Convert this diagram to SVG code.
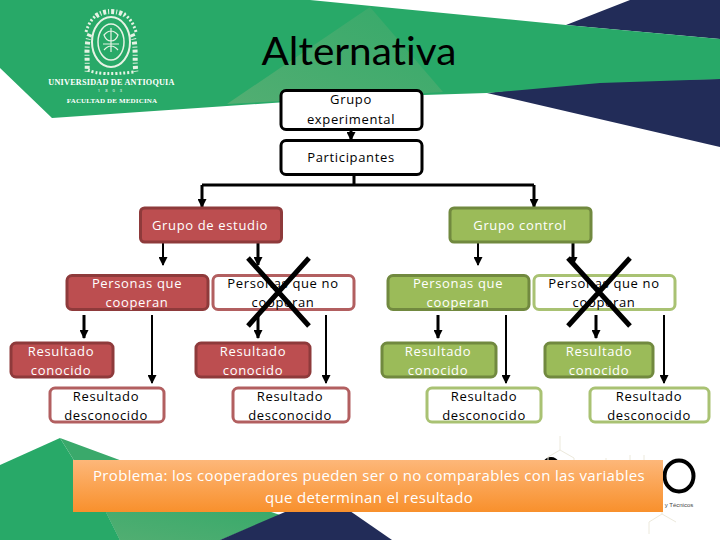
<svg xmlns="http://www.w3.org/2000/svg" width="720" height="540" viewBox="0 0 720 540">
<style>
text{font-family:"Open Sans","Noto Sans","Liberation Sans",sans-serif;text-anchor:middle;font-size:13px;letter-spacing:.65px}
.lt{fill:#fff}.dk{fill:#000}
.k{fill:#fff;stroke:#000;stroke-width:3}
.rf{fill:#bc4e50;stroke:#8e3a3b;stroke-width:3}
.ro{fill:#fff;stroke:#b25f60;stroke-width:3}
.gf{fill:#9bbb59;stroke:#71893f;stroke-width:3}
.go{fill:#fff;stroke:#a9c273;stroke-width:3}
.c{fill:none;stroke:#000;stroke-width:2}
.c3{fill:none;stroke:#000;stroke-width:3}
.x{stroke:#000;stroke-width:5;fill:none}
.crest{fill:none;stroke:#e6f3e4}
.hx{fill:none;stroke:#ece9dc;stroke-width:1}
.ser{font-family:"Liberation Serif",serif;font-weight:bold}
</style>
<defs>
<linearGradient id="og" x1="0" y1="0" x2="0" y2="1"><stop offset="0" stop-color="#fdb779"/><stop offset="1" stop-color="#f8902c"/></linearGradient>
<linearGradient id="lg" x1="0" y1="1" x2="1" y2="0"><stop offset="0" stop-color="#52ae72"/><stop offset="1" stop-color="#36a96a"/></linearGradient>
<marker id="a" markerUnits="userSpaceOnUse" markerWidth="9" markerHeight="9" refX="8" refY="4.500" orient="auto" viewBox="0 0 9 9"><path d="M0 0L9 4.500L0 9Z" fill="#000"/></marker>
</defs>
<rect width="720" height="540" fill="#fff"/>
<g id="background">
<polygon points="566,25 630,0 720,0 720,39" fill="#222c58"/>
<polygon points="487,93 600,80 720,79 720,147" fill="#222c58"/>
<polygon points="0,0 310,0 566,25 720,39 720,79 600,83 487,93 360,97 52,118 0,68" fill="#28a968"/>
<polygon points="370,7 443,92 360,97 227,104" fill="url(#lg)"/>
<polygon points="60,438 0,465 0,540 120,540 105,510" fill="#28a968"/>
<polygon points="60,438 125,462 280,515 220,540 120,540 105,510" fill="#3aa96b"/>
<polygon points="105,510 200,505 280,515 220,540 120,540" fill="url(#lg)"/>
<polygon points="220,540 285,512 350,511 392,540" fill="#222c58"/>
<g id="logo-ua">
<ellipse cx="111" cy="42" rx="19" ry="25" class="crest" stroke-width="2"/>
<ellipse cx="111" cy="42" rx="13" ry="18" class="crest" stroke-width="1.500"/>
<path class="crest" stroke-width="1.200" d="M104 35q7-8 14 0q-2 6-7 6q-5 0-7-6zM104 50q7-8 14 0M111 28v24M103 44h16"/>
<path class="crest" stroke-width="5" stroke-dasharray="3 2 1 2" d="M96 16C104 10 118 10 126 16M90 34C85 44 88 62 87 72M132 34C137 44 134 62 136 72"/>
<path class="crest" stroke-width="3" stroke-dasharray="2 2" d="M86 32Q90 18 100 13M136 32Q132 18 122 13M88 70Q100 76 134 72"/>
<text x="111.500" y="85" class="lt ser" style="font-size:8.200px;letter-spacing:.22px">UNIVERSIDAD DE ANTIOQUIA</text>
<text x="111" y="92" class="lt" style="font-size:4px;letter-spacing:2px">1 8 0 3</text>
<text x="112" y="103" class="lt ser" style="font-size:7px;letter-spacing:.15px">FACULTAD DE MEDICINA</text>
</g>
<g id="logo-right">
<ellipse cx="551" cy="476" rx="10" ry="17" fill="none" stroke="#000" stroke-width="4"/>
<ellipse cx="679" cy="476" rx="14.500" ry="15.500" fill="none" stroke="#000" stroke-width="4"/>
<path class="hx" d="M560 436v14l-12 7v16M560 450l14 8v14M606 458v2M630 455v5M644 455v20M662 514l-13 8v12M662 514l14 8M662 500v14"/>
<text x="679" y="507" style="font-family:'Liberation Sans',sans-serif;font-size:6px;letter-spacing:0;fill:#444">y Técnicos</text>
</g>
</g>
<text id="title" x="359" y="65" class="dk" style="font-size:38px;letter-spacing:0;font-family:'Lato','Open Sans',sans-serif;font-variant-ligatures:none" textLength="195" lengthAdjust="spacingAndGlyphs">Alternativa</text>
<g id="connectors">
<path class="c3" d="M351 130V140" marker-end="url(#a)"/>
<path class="c3" d="M354 175V185M202 185H534"/>
<path class="c3" d="M202 185V207" marker-end="url(#a)"/><path class="c3" d="M534 185V207" marker-end="url(#a)"/>
<path class="c" d="M163 242V265" marker-end="url(#a)"/><path class="c3" d="M258 242V265" marker-end="url(#a)"/>
<path class="c3" d="M84 315V338" marker-end="url(#a)"/><path class="c" d="M152 315V383" marker-end="url(#a)"/>
<path class="c3" d="M258 315V338" marker-end="url(#a)"/><path class="c" d="M326 315V383" marker-end="url(#a)"/>
<path class="c" d="M478 242V265" marker-end="url(#a)"/><path class="c3" d="M573 242V265" marker-end="url(#a)"/>
<path class="c3" d="M438 315V338" marker-end="url(#a)"/><path class="c" d="M506 315V383" marker-end="url(#a)"/>
<path class="c3" d="M596 315V338" marker-end="url(#a)"/><path class="c" d="M664 315V383" marker-end="url(#a)"/>
</g>
<g id="n-experimental"><rect x="281" y="90.500" width="141" height="39" rx="5" class="k"/><text x="351" y="104" class="dk">Grupo</text><text x="351" y="124" class="dk">experimental</text></g>
<g id="n-participantes"><rect x="281" y="140.500" width="141" height="34" rx="5" class="k"/><text x="351" y="162" class="dk">Participantes</text></g>
<g id="n-estudio"><rect x="140.500" y="208" width="141" height="34" rx="4" class="rf"/><text x="210" y="230" class="lt">Grupo de estudio</text></g>
<g id="n-control"><rect x="450" y="208" width="141" height="34" rx="4" class="gf"/><text x="520" y="230" class="lt">Grupo control</text></g>
<g id="n-r-coop"><rect x="67" y="275.500" width="141" height="34" rx="5" class="rf"/><text x="137" y="288" class="lt">Personas que</text><text x="137" y="307" class="lt">cooperan</text></g>
<g id="n-r-nocoop"><rect x="213" y="275.500" width="141" height="34" rx="5" class="ro"/><text x="283" y="288" class="dk">Personas que no</text><text x="283" y="307" class="dk">cooperan</text></g>
<g id="n-r-c1"><rect x="11" y="343" width="102" height="34" rx="5" class="rf"/><text x="61" y="356" class="lt">Resultado</text><text x="61" y="375" class="lt">conocido</text></g>
<g id="n-r-d1"><rect x="50" y="388" width="114" height="34" rx="5" class="ro"/><text x="106" y="401" class="dk">Resultado</text><text x="106" y="420" class="dk">desconocido</text></g>
<g id="n-r-c2"><rect x="196" y="343" width="114" height="34" rx="5" class="rf"/><text x="253" y="356" class="lt">Resultado</text><text x="253" y="375" class="lt">conocido</text></g>
<g id="n-r-d2"><rect x="233" y="388" width="116" height="34" rx="5" class="ro"/><text x="290" y="401" class="dk">Resultado</text><text x="290" y="420" class="dk">desconocido</text></g>
<g id="n-g-coop"><rect x="388" y="275.500" width="141" height="34" rx="5" class="gf"/><text x="458" y="288" class="lt">Personas que</text><text x="458" y="307" class="lt">cooperan</text></g>
<g id="n-g-nocoop"><rect x="534" y="275.500" width="141" height="34" rx="5" class="go"/><text x="604" y="288" class="dk">Personas que no</text><text x="604" y="307" class="dk">cooperan</text></g>
<g id="n-g-c1"><rect x="382" y="343" width="114" height="34" rx="5" class="gf"/><text x="438" y="356" class="lt">Resultado</text><text x="438" y="375" class="lt">conocido</text></g>
<g id="n-g-d1"><rect x="427" y="388" width="114" height="34" rx="5" class="go"/><text x="484" y="401" class="dk">Resultado</text><text x="484" y="420" class="dk">desconocido</text></g>
<g id="n-g-c2"><rect x="545" y="343" width="108" height="34" rx="5" class="gf"/><text x="599" y="356" class="lt">Resultado</text><text x="599" y="375" class="lt">conocido</text></g>
<g id="n-g-d2"><rect x="590" y="388" width="119" height="34" rx="5" class="go"/><text x="649" y="401" class="dk">Resultado</text><text x="649" y="420" class="dk">desconocido</text></g>
<g id="cross-estudio"><path class="x" d="M248 258L309 326M309 258L248 326"/></g>
<g id="cross-control"><path class="x" d="M568 258L630 326M630 258L568 326"/></g>
<g id="problema"><rect x="73" y="460" width="590" height="52" fill="url(#og)"/><text x="369" y="481" class="lt" style="font-size:15px;letter-spacing:.33px">Problema: los cooperadores pueden ser o no comparables con las variables</text><text x="369" y="503" class="lt" style="font-size:15px;letter-spacing:.33px">que determinan el resultado</text></g>
</svg>
